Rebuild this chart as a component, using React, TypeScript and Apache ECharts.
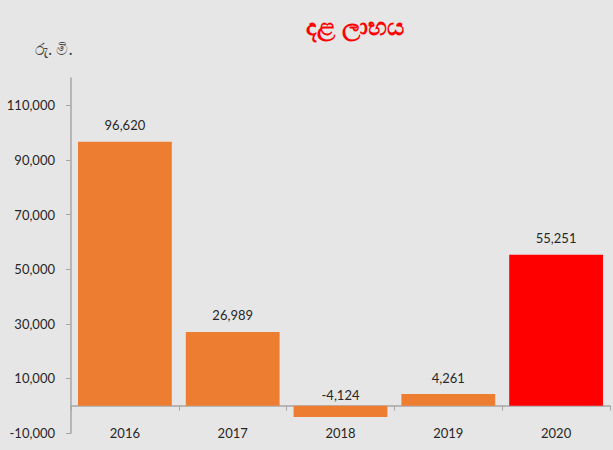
import React, { useEffect, useRef } from "react";
import * as echarts from "echarts";

const categories = ["2016", "2017", "2018", "2019", "2020"];
const values = [96620, 26989, -4124, 4261, 55251];
const barColors = ["#ED7D31", "#ED7D31", "#ED7D31", "#ED7D31", "#FF0000"];
const titleText = "දළ ලාභය";
const unitText = "රු. මි.";

export default function App() {
  const ref = useRef<HTMLDivElement>(null);
  useEffect(() => {
    document.body.style.margin = "0";
    const chart = echarts.init(ref.current!, null, { renderer: "svg" });
    const font = "Lato, 'Liberation Sans', sans-serif";
    chart.setOption({
      animation: false,
      backgroundColor: "#E6E6E6",
      graphic: [
        {
          type: "text",
          x: 355,
          y: 25,
          style: {
            text: titleText,
            fill: "#FF0000",
            font: `bold 24px 'Noto Sans', ${font}`,
            textAlign: "center",
            textVerticalAlign: "middle",
          },
        },
        {
          type: "text",
          x: 35,
          y: 49,
          style: {
            text: unitText,
            fill: "#404040",
            font: `16px 'Noto Sans', ${font}`,
            textAlign: "left",
            textVerticalAlign: "middle",
          },
        },
      ],
      grid: { left: 71, right: 3, top: 78, bottom: 17, containLabel: false, outerBoundsMode: "none" },
      xAxis: {
        type: "category",
        data: categories,
        axisLine: { onZero: true, lineStyle: { color: "#A6A6A6", width: 1.5 } },
        axisTick: { show: true, length: 5, lineStyle: { color: "#A6A6A6" } },
        axisLabel: { margin: -7, color: "#262626", fontSize: 13, fontFamily: font },
      },
      yAxis: {
        type: "value",
        min: -10000,
        max: 120000,
        interval: 20000,
        splitLine: { show: false },
        axisLine: { show: true, lineStyle: { color: "#A6A6A6", width: 1.5 } },
        axisTick: { show: true, length: 5, lineStyle: { color: "#A6A6A6" } },
        axisLabel: {
          showMaxLabel: false,
          margin: 16,
          color: "#262626",
          fontSize: 13,
          fontFamily: font,
          formatter: (v: number) => (v === 120000 ? "" : v.toLocaleString("en-US")),
        },
      },
      series: [
        {
          type: "bar",
          barCategoryGap: "13%",
          data: values.map((v, i) => ({
            value: v,
            itemStyle: { color: barColors[i] },
            label: v < 0 ? { distance: 4 } : undefined,
          })),
          label: {
            show: true,
            position: "top",
            distance: 10,
            color: "#262626",
            fontSize: 13,
            fontFamily: font,
            formatter: (p: any) => Number(p.value).toLocaleString("en-US"),
          },
        },
      ],
    });
    return () => chart.dispose();
  }, []);
  return <div ref={ref} style={{ width: 613, height: 450 }} />;
}
